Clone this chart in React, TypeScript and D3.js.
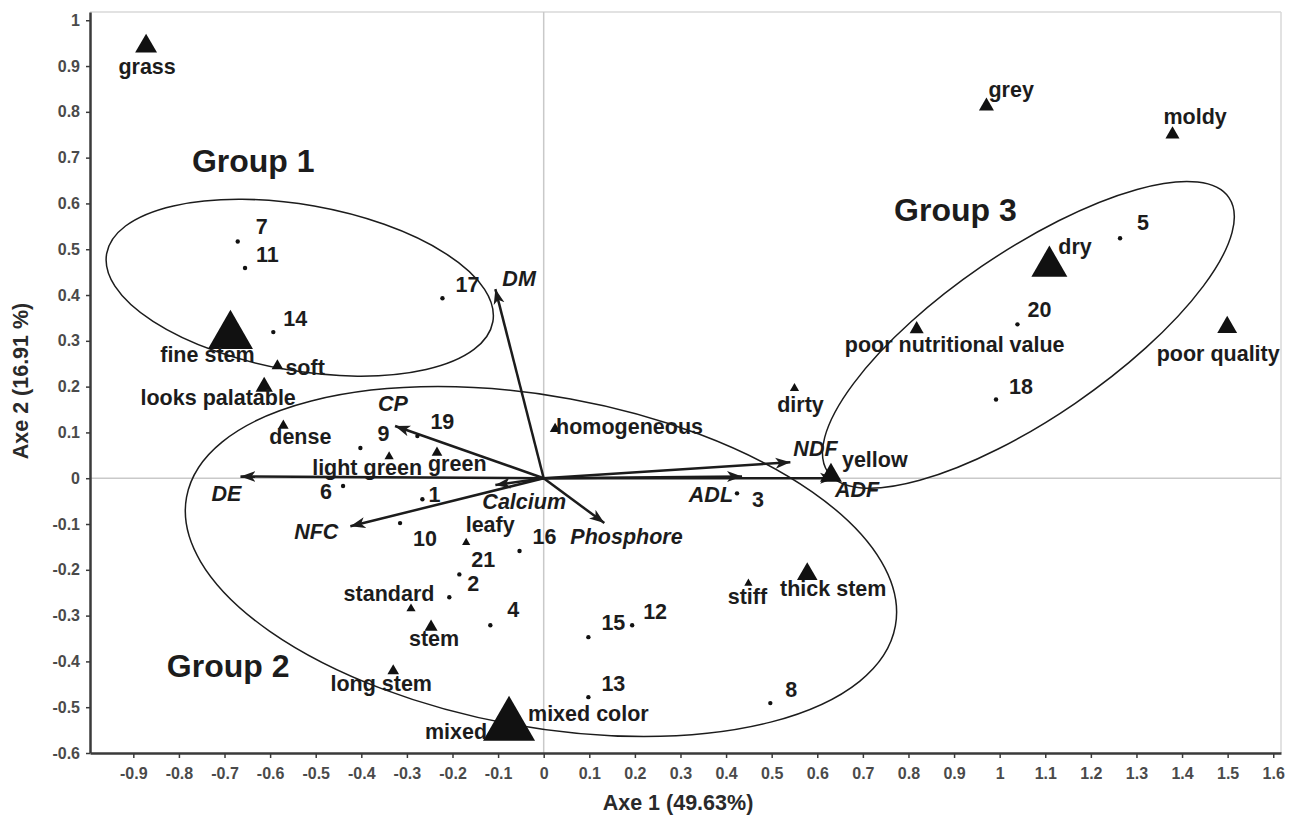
import React, { useEffect, useRef } from "react";
import * as d3 from "d3";

// modalities (triangles), size = citation frequency
const modalities = [
  { name: "grass", x: -0.872, y: 0.95, freq: 8.5 },
  { name: "grey", x: 0.971, y: 0.817, freq: 4 },
  { name: "moldy", x: 1.379, y: 0.755, freq: 3.5 },
  { name: "dry", x: 1.109, y: 0.474, freq: 23 },
  { name: "poor nutritional value", x: 0.818, y: 0.33, freq: 3.5 },
  { name: "poor quality", x: 1.499, y: 0.336, freq: 7 },
  { name: "dirty", x: 0.55, y: 0.199, freq: 1.5 },
  { name: "homogeneous", x: 0.025, y: 0.111, freq: 2 },
  { name: "yellow", x: 0.63, y: 0.013, freq: 8.5 },
  { name: "thick stem", x: 0.578, y: -0.203, freq: 7.5 },
  { name: "stiff", x: 0.449, y: -0.227, freq: 1.2 },
  { name: "green", x: -0.234, y: 0.059, freq: 2 },
  { name: "light green", x: -0.339, y: 0.05, freq: 1.5 },
  { name: "dense", x: -0.571, y: 0.118, freq: 2 },
  { name: "looks palatable", x: -0.613, y: 0.205, freq: 5.3 },
  { name: "soft", x: -0.584, y: 0.249, freq: 2.4 },
  { name: "fine stem", x: -0.687, y: 0.325, freq: 36 },
  { name: "leafy", x: -0.17, y: -0.138, freq: 1.2 },
  { name: "standard", x: -0.291, y: -0.282, freq: 1.5 },
  { name: "stem", x: -0.247, y: -0.321, freq: 3 },
  { name: "long stem", x: -0.33, y: -0.417, freq: 2.4 },
  { name: "mixed color", x: -0.076, y: -0.524, freq: 40 },
  { name: "mixed", x: -0.076, y: -0.524, freq: 48 },
];

// hay samples (dots)
const samples = [
  { id: "1", x: -0.266, y: -0.046 },
  { id: "2", x: -0.207, y: -0.26 },
  { id: "3", x: 0.424, y: -0.033 },
  { id: "4", x: -0.117, y: -0.321 },
  { id: "5", x: 1.264, y: 0.524 },
  { id: "6", x: -0.44, y: -0.017 },
  { id: "7", x: -0.671, y: 0.517 },
  { id: "8", x: 0.497, y: -0.491 },
  { id: "9", x: -0.402, y: 0.066 },
  { id: "10", x: -0.315, y: -0.098 },
  { id: "11", x: -0.655, y: 0.459 },
  { id: "12", x: 0.194, y: -0.321 },
  { id: "13", x: 0.098, y: -0.478 },
  { id: "14", x: -0.593, y: 0.319 },
  { id: "15", x: 0.098, y: -0.347 },
  { id: "16", x: -0.053, y: -0.159 },
  { id: "17", x: -0.222, y: 0.393 },
  { id: "18", x: 0.992, y: 0.172 },
  { id: "19", x: -0.277, y: 0.092 },
  { id: "20", x: 1.039, y: 0.336 },
  { id: "21", x: -0.185, y: -0.21 },
];

// supplementary chemical variables (arrows)
const variables = [
  { name: "DM", x: -0.106, y: 0.413 },
  { name: "CP", x: -0.326, y: 0.114 },
  { name: "DE", x: -0.665, y: 0.004 },
  { name: "NFC", x: -0.424, y: -0.105 },
  { name: "Calcium", x: -0.106, y: -0.015 },
  { name: "Phosphore", x: 0.133, y: -0.098 },
  { name: "NDF", x: 0.541, y: 0.035 },
  { name: "ADL", x: 0.435, y: 0.004 },
  { name: "ADF", x: 0.639, y: 0.0 },
];

// group ellipses (centre, semi-axes in axis units, tilt)
const groups = [
  { name: "Group 1", cx: -0.535, cy: 0.416, a: 0.43, b: 0.181, angle: 10, lx: -0.637, ly: 0.668 },
  { name: "Group 2", cx: -0.006, cy: -0.182, a: 0.79, b: 0.361, angle: 10.3, lx: -0.692, ly: -0.434 },
  { name: "Group 3", cx: 1.063, cy: 0.313, a: 0.533, b: 0.181, angle: -34.4, lx: 0.903, ly: 0.561 },
];

const xTickValues = [-0.9, -0.8, -0.7, -0.6, -0.5, -0.4, -0.3, -0.2, -0.1, 0, 0.1, 0.2, 0.3, 0.4, 0.5, 0.6, 0.7, 0.8, 0.9, 1, 1.1, 1.2, 1.3, 1.4, 1.5, 1.6];
const yTickValues = [-0.6, -0.5, -0.4, -0.3, -0.2, -0.1, 0, 0.1, 0.2, 0.3, 0.4, 0.5, 0.6, 0.7, 0.8, 0.9, 1];

// label placement [dx, dy, anchor] in pixels
const modLabel: Record<string, [number, number, string]> = {
  grass: [1, 31, "middle"],
  grey: [2, -7, "start"],
  moldy: [-9, -8, "start"],
  dry: [9, -7, "start"],
  "poor nutritional value": [38, 25, "middle"],
  "poor quality": [-9, 37, "middle"],
  dirty: [6, 25, "middle"],
  homogeneous: [1, 7, "start"],
  yellow: [11, -5, "start"],
  "thick stem": [26, 25, "middle"],
  stiff: [-1, 22, "middle"],
  green: [-9, 20, "start"],
  "light green": [-22, 20, "middle"],
  dense: [17, 20, "middle"],
  "looks palatable": [-46, 21, "middle"],
  soft: [8, 11, "start"],
  "fine stem": [-23, 33, "middle"],
  leafy: [24, -9, "middle"],
  standard: [-22, -6, "middle"],
  stem: [3, 21, "middle"],
  "long stem": [-12, 22, "middle"],
  mixed: [-22, 21, "end"],
  "mixed color": [19, 3, "start"],
};
const sampleLabel: Record<string, [number, number]> = {
  "1": [6, 3], "2": [18, -6], "3": [15, 14], "4": [17, -8], "5": [17, -8],
  "6": [-23, 13], "7": [18, -7], "8": [15, -6], "9": [17, -7], "10": [13, 23],
  "11": [11, -6], "12": [11, -6], "13": [13, -6], "14": [10, -6], "15": [13, -7],
  "16": [13, -7], "17": [13, -6], "18": [13, -5], "19": [13, -7], "20": [10, -7],
  "21": [12, -7],
};
const varLabel: Record<string, [number, number, string]> = {
  DM: [7, -3, "start"],
  CP: [-17, -15, "start"],
  DE: [-29, 25, "start"],
  NFC: [-12, 13, "end"],
  Calcium: [-13, 24, "start"],
  Phosphore: [-34, 21, "start"],
  NDF: [3, -6, "start"],
  ADL: [-9, 26, "end"],
  ADF: [0, 19, "start"],
};

const FONT = "'Liberation Sans', Arial, Helvetica, sans-serif";
const INK = "#1c1c1c";

export default function App() {
  const svgRef = useRef<SVGSVGElement>(null);

  useEffect(() => {
    const svg = d3.select(svgRef.current);
    svg.selectAll("*").remove();

    const x = d3.scaleLinear().domain([-0.995, 1.617]).range([90, 1281]);
    const y = d3.scaleLinear().domain([-0.6, 1.018]).range([753, 12]);
    const kx = x(1) - x(0);
    const ky = y(0) - y(1);

    const sizeScale = d3.scaleLinear().domain([0, 48]).range([0, 48 * 24.4]);

    svg
      .append("defs")
      .append("marker")
      .attr("id", "arrowhead")
      .attr("markerUnits", "userSpaceOnUse")
      .attr("viewBox", "0 -6 16 12")
      .attr("refX", 15)
      .attr("refY", 0)
      .attr("markerWidth", 16)
      .attr("markerHeight", 12)
      .attr("orient", "auto")
      .append("path")
      .attr("d", "M0,-5.5L15,0L0,5.5L4,0Z")
      .attr("fill", INK);

    // frame
    svg.append("line")
      .attr("x1", x.range()[0]).attr("x2", x.range()[1])
      .attr("y1", y.range()[1]).attr("y2", y.range()[1])
      .attr("stroke", "#d9d9d9").attr("stroke-width", 1.5);
    svg.append("line")
      .attr("x1", x.range()[1]).attr("x2", x.range()[1])
      .attr("y1", y.range()[1]).attr("y2", y.range()[0])
      .attr("stroke", "#d9d9d9").attr("stroke-width", 1.5);

    // zero lines
    svg.append("line")
      .attr("x1", x(0)).attr("x2", x(0))
      .attr("y1", y.range()[1]).attr("y2", y.range()[0])
      .attr("stroke", "#c9c9c9").attr("stroke-width", 1.5);
    svg.append("line")
      .attr("x1", x.range()[0]).attr("x2", x.range()[1])
      .attr("y1", y(0)).attr("y2", y(0))
      .attr("stroke", "#c9c9c9").attr("stroke-width", 1.5);

    // ellipses
    svg.selectAll(".grp")
      .data(groups)
      .join("ellipse")
      .attr("class", "grp")
      .attr("cx", 0).attr("cy", 0)
      .attr("rx", (d) => d.a * kx)
      .attr("ry", (d) => d.b * ky)
      .attr("transform", (d) => `translate(${x(d.cx)},${y(d.cy)}) rotate(${d.angle})`)
      .attr("fill", "none")
      .attr("stroke", INK)
      .attr("stroke-width", 1.5);

    svg.selectAll(".grpLabel")
      .data(groups)
      .join("text")
      .attr("class", "grpLabel")
      .attr("x", (d) => x(d.lx))
      .attr("y", (d) => y(d.ly))
      .attr("text-anchor", "middle")
      .attr("font-family", FONT)
      .attr("font-weight", "bold")
      .attr("font-size", 32)
      .attr("fill", INK)
      .text((d) => d.name);

    // arrows
    svg.selectAll(".vec")
      .data(variables)
      .join("line")
      .attr("class", "vec")
      .attr("x1", x(0)).attr("y1", y(0))
      .attr("x2", (d) => x(d.x)).attr("y2", (d) => y(d.y))
      .attr("stroke", INK)
      .attr("stroke-width", 2.5)
      .attr("marker-end", "url(#arrowhead)");

    // triangles
    const tri = d3.symbol().type(d3.symbolTriangle);
    svg.selectAll(".mod")
      .data(modalities)
      .join("path")
      .attr("class", "mod")
      .attr("d", (d) => tri.size(sizeScale(d.freq))())
      .attr("transform", (d) => {
        const h = Math.sqrt(sizeScale(d.freq) * Math.sqrt(3));
        return `translate(${x(d.x)},${y(d.y) + h / 6})`;
      })
      .attr("fill", "#111");

    // sample dots
    svg.selectAll(".smp")
      .data(samples)
      .join("circle")
      .attr("class", "smp")
      .attr("cx", (d) => x(d.x))
      .attr("cy", (d) => y(d.y))
      .attr("r", 2.2)
      .attr("fill", "#111");

    const labelStyle = (sel: any) =>
      sel
        .attr("font-family", FONT)
        .attr("font-weight", "bold")
        .attr("font-size", 21.5)
        .attr("fill", INK);

    svg.selectAll(".modLabel")
      .data(modalities)
      .join("text")
      .attr("class", "modLabel")
      .attr("x", (d) => x(d.x) + modLabel[d.name][0])
      .attr("y", (d) => y(d.y) + modLabel[d.name][1])
      .attr("text-anchor", (d) => modLabel[d.name][2])
      .call(labelStyle)
      .text((d) => d.name);

    svg.selectAll(".smpLabel")
      .data(samples)
      .join("text")
      .attr("class", "smpLabel")
      .attr("x", (d) => x(d.x) + sampleLabel[d.id][0])
      .attr("y", (d) => y(d.y) + sampleLabel[d.id][1])
      .call(labelStyle)
      .text((d) => d.id);

    svg.selectAll(".varLabel")
      .data(variables)
      .join("text")
      .attr("class", "varLabel")
      .attr("x", (d) => x(d.x) + varLabel[d.name][0])
      .attr("y", (d) => y(d.y) + varLabel[d.name][1])
      .attr("text-anchor", (d) => varLabel[d.name][2])
      .attr("font-style", "italic")
      .call(labelStyle)
      .text((d) => d.name);

    // axes
    const xAxis = d3.axisBottom(x)
      .tickValues(xTickValues)
      .tickSize(5)
      .tickSizeOuter(0)
      .tickPadding(10)
      .tickFormat((d) => String(d));
    const yAxis = d3.axisLeft(y)
      .tickValues(yTickValues)
      .tickSize(4)
      .tickSizeOuter(0)
      .tickPadding(6)
      .tickFormat((d) => String(d));

    const gx = svg.append("g").attr("transform", `translate(0,${y.range()[0]})`).call(xAxis);
    const gy = svg.append("g").attr("transform", `translate(${x.range()[0]},0)`).call(yAxis);
    [gx, gy].forEach((g) => {
      g.select(".domain").attr("stroke", "#3a3a3a").attr("stroke-width", 2.5);
      g.selectAll(".tick line").attr("stroke", "#3a3a3a").attr("stroke-width", 1.5);
      g.selectAll(".tick text")
        .attr("font-family", FONT)
        .attr("font-weight", "bold")
        .attr("font-size", 16)
        .attr("fill", "#4a4a4a");
    });

    svg.append("text")
      .attr("x", 678)
      .attr("y", 810)
      .attr("text-anchor", "middle")
      .call(labelStyle)
      .attr("fill", "#2a2a2a")
      .text("Axe 1 (49.63%)");

    svg.append("text")
      .attr("transform", "translate(28,381) rotate(-90)")
      .attr("text-anchor", "middle")
      .call(labelStyle)
      .attr("fill", "#2a2a2a")
      .text("Axe 2 (16.91 %)");
  }, []);

  return (
    <div style={{ position: "absolute", left: 0, top: 0 }}>
      <svg ref={svgRef} width={1298} height={816} style={{ display: "block", background: "#fff" }} />
    </div>
  );
}
